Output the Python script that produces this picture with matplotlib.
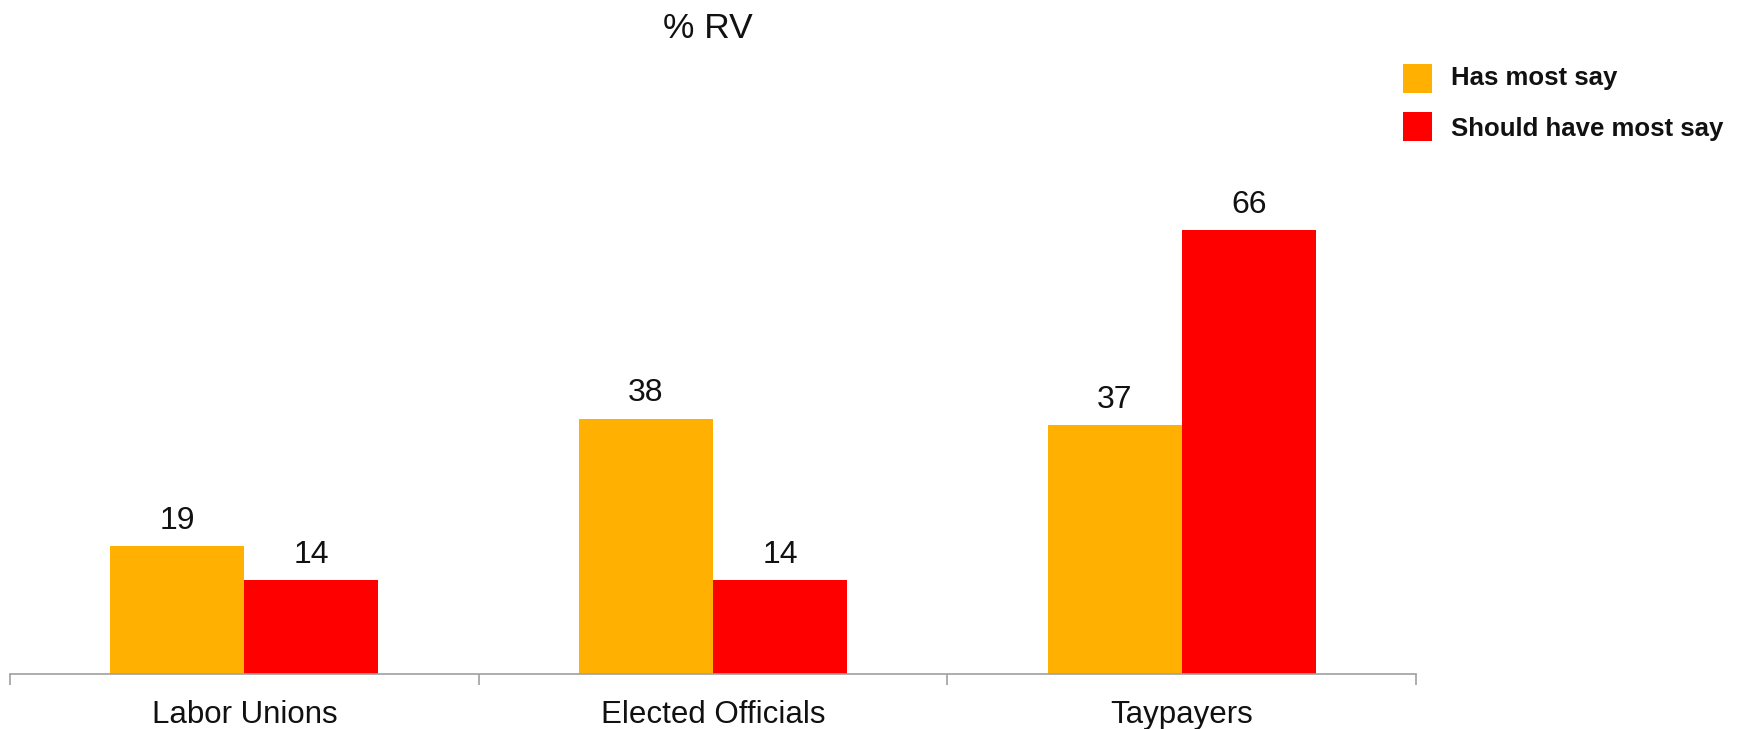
import matplotlib
matplotlib.use("Agg")
import matplotlib.pyplot as plt
from matplotlib.patches import Rectangle
import numpy as np

categories = ["Labor Unions", "Elected Officials", "Taypayers"]
series_names = ["Has most say", "Should have most say"]
has_most_say = [19, 38, 37]
should_have_most_say = [14, 14, 66]
colors = ["#FFB000", "#FF0000"]
title = "% RV"

plt.rcParams['font.family'] = ['Liberation Sans', 'DejaVu Sans']

W, H = 1748, 729
fig = plt.figure(figsize=(W / 100, H / 100), dpi=100)
ax_left, ax_right = 10 / W, 1416 / W
ax_bottom = 1 - 674 / H
ax_top = 1 - 136.4 / H
ax = fig.add_axes([ax_left, ax_bottom, ax_right - ax_left, ax_top - ax_bottom])

x = np.arange(len(categories))
w = 0.286
series = [has_most_say, should_have_most_say]
for i, (vals, name, c) in enumerate(zip(series, series_names, colors)):
    pos = x + (i - 0.5) * w
    ax.bar(pos, vals, width=w, color=c, label=name, linewidth=0)
    for p, v in zip(pos, vals):
        ax.annotate(str(v), (p, v), xytext=(0, 12.5), textcoords='offset points',
                    ha='center', va='baseline', fontsize=23, color='#111111')

ax.set_xlim(-0.5, len(categories) - 0.5)
ax.set_ylim(0, 80)
for s in ['top', 'right', 'left']:
    ax.spines[s].set_visible(False)
ax.spines['bottom'].set_color('#A0A0A0')
ax.spines['bottom'].set_linewidth(1.2)
ax.set_yticks([])
ax.set_xticks(x)
ax.set_xticklabels(categories, fontsize=22.5, color='#111111')
ax.tick_params(axis='x', which='major', length=0, pad=19)
ax.set_xticks(np.arange(-0.5, len(categories), 1.0), minor=True)
ax.tick_params(axis='x', which='minor', length=8, width=1.2, color='#A0A0A0', direction='out')

fig.text(708 / W, 1 - 38 / H, title, ha='center', va='baseline', fontsize=25.5, color='#111111')

# legend drawn manually
sq = 29
for k, (name, c) in enumerate(zip(series_names, colors)):
    top = 64 + 48 * k
    fig.add_artist(Rectangle((1403 / W, 1 - (top + sq) / H), sq / W, sq / H,
                             transform=fig.transFigure, facecolor=c, edgecolor='none'))
    fig.text(1451 / W, 1 - (85.5 + 50.5 * k) / H, name, ha='left', va='baseline',
             fontsize=18.5, fontweight='bold', color='#111111')

fig.savefig("out.png", dpi=100)
